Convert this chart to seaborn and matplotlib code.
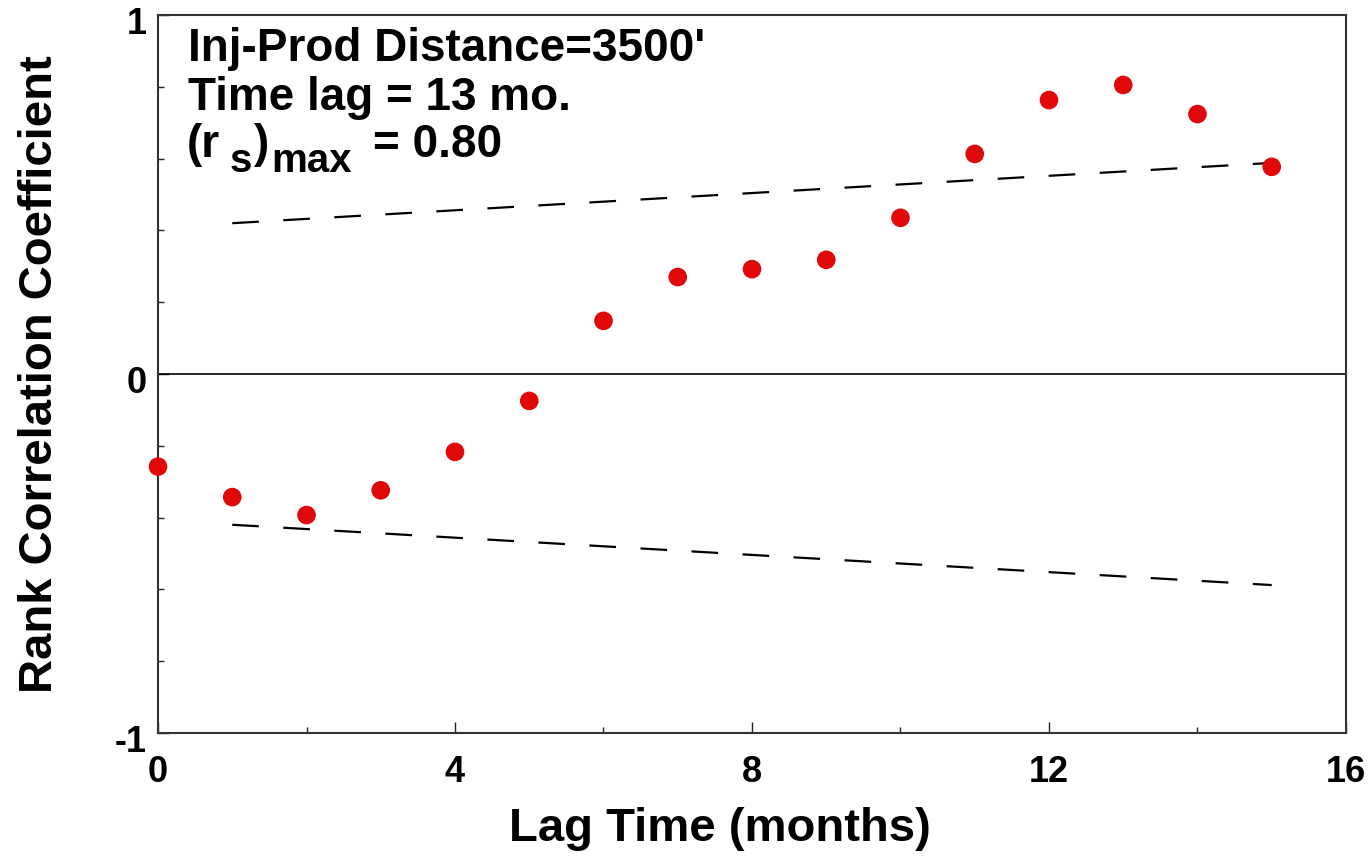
import numpy as np
import pandas as pd
import matplotlib
matplotlib.use('Agg')
import matplotlib.pyplot as plt
import matplotlib.transforms as mtransforms
import seaborn as sns
from matplotlib.ticker import MultipleLocator

# Data
lag = [0, 1, 2, 3, 4, 5, 6, 7, 8, 9, 10, 11, 12, 13, 14, 15]
rank_corr = [-0.258, -0.343, -0.393, -0.324, -0.217, -0.075, 0.148, 0.270,
             0.292, 0.318, 0.435, 0.613, 0.763, 0.805, 0.724, 0.577]
limit_lag = [1, 15]
upper_limit = [0.42, 0.588]
lower_limit = [-0.42, -0.588]

df = pd.DataFrame({'lag': lag, 'rs': rank_corr})
lim = pd.DataFrame({'lag': limit_lag, 'up': upper_limit, 'low': lower_limit})

sns.set_style('ticks')
plt.rcParams['font.family'] = ['Liberation Sans', 'DejaVu Sans']
plt.rcParams['font.weight'] = 'bold'
plt.rcParams['axes.unicode_minus'] = False
plt.rcParams['text.color'] = 'black'
plt.rcParams['axes.labelcolor'] = 'black'
plt.rcParams['xtick.color'] = 'black'
plt.rcParams['ytick.color'] = 'black'

fig = plt.figure(figsize=(13.68, 8.61), dpi=100)
ax = fig.add_axes([0.1155, 0.1487, 0.8684, 0.8339])

# Significance limits
dash = (0, (12, 11))
sns.lineplot(data=lim, x='lag', y='up', ax=ax, color='black', lw=1.6, linestyle=dash)
sns.lineplot(data=lim, x='lag', y='low', ax=ax, color='black', lw=1.6, linestyle=dash)
ax.axhline(0, color='black', lw=1.2, zorder=1)

# Points
sns.scatterplot(data=df, x='lag', y='rs', ax=ax, color='#e00808', s=180,
                edgecolor='none', zorder=3, clip_on=False)

ax.set_xlim(0, 16)
ax.set_ylim(-1, 1)
ax.set_xticks([0, 4, 8, 12, 16])
ax.set_yticks([-1, 0, 1])
ax.xaxis.set_minor_locator(MultipleLocator(2))
ax.yaxis.set_minor_locator(MultipleLocator(0.2))
ax.tick_params(axis='both', which='major', direction='in', length=8, width=1,
               labelsize=26, color='#222222', labelcolor='black')
ax.tick_params(axis='both', which='minor', direction='in', length=4.5, width=1,
               color='#222222')
ax.tick_params(axis='x', which='major', pad=16)
ax.tick_params(axis='y', which='major', pad=8)
for lbl in ax.get_xticklabels() + ax.get_yticklabels():
    lbl.set_fontweight('bold')
# y tick labels sit a little below their ticks in the original
shift = mtransforms.ScaledTranslation(0, -0.06, fig.dpi_scale_trans)
for lbl in ax.get_yticklabels():
    lbl.set_transform(lbl.get_transform() + shift)

for s in ax.spines.values():
    s.set_color('#333333')
    s.set_linewidth(1.5)

ax.set_xlabel('Lag Time (months)', fontsize=34, fontweight='bold')
ax.set_ylabel('Rank Correlation Coefficient', fontsize=34, fontweight='bold')
ax.xaxis.set_label_coords(0.473, -0.103)
ax.yaxis.set_label_coords(-0.081, 0.5)

# Annotation text
fx = lambda px: (px - 158) / 1188
fy = lambda py: 1 - (py - 15) / 718
big = dict(fontsize=33, fontweight='bold', va='baseline', ha='left', transform=ax.transAxes)
small = dict(fontsize=29, fontweight='bold', va='baseline', ha='left', transform=ax.transAxes)
ax.text(fx(188), fy(61), "Inj-Prod Distance=3500'", **big)
ax.text(fx(188), fy(110), "Time lag = 13 mo.", **big)
ax.text(fx(187), fy(157), "(r", **big)
ax.text(fx(230), fy(172), "s", **small)
ax.text(fx(254), fy(157), ")", **big)
ax.text(fx(271), fy(172), "max", **small)
ax.text(fx(373), fy(157), "= 0.80", **big)

plt.savefig('out.png', dpi=100)
